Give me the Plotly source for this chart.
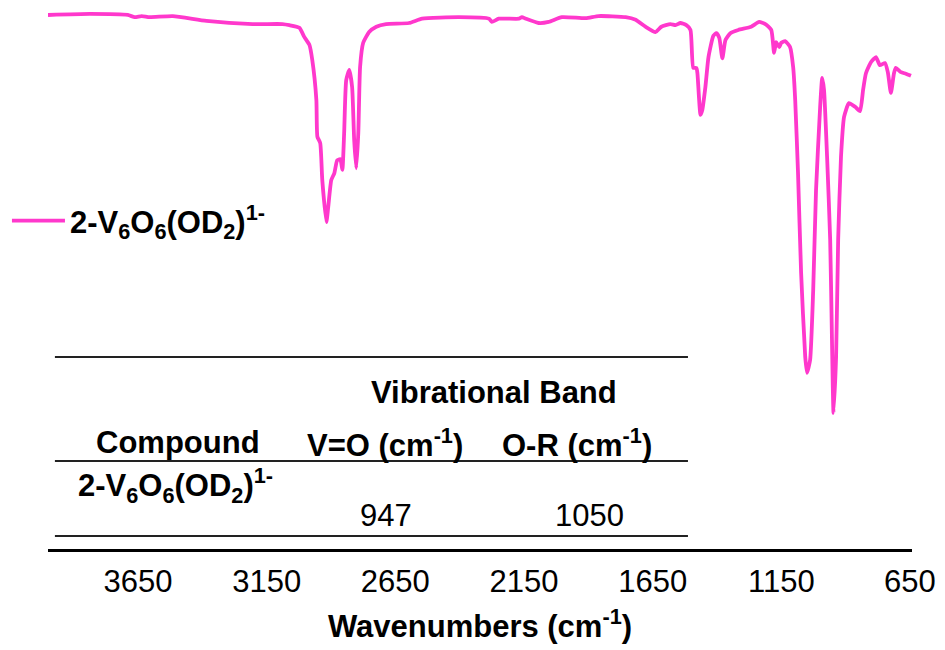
import plotly.graph_objects as go

# ---- data ----
wavenumber = [4000, 3837, 3690, 3663, 3636, 3605, 3515, 3384, 3205, 3089, 3062, 3023, 3004, 2984,
              2973, 2957, 2953, 2942, 2934, 2918, 2911, 2899, 2887, 2876, 2864, 2856, 2849, 2841,
              2829, 2818, 2810, 2802, 2794, 2787, 2775, 2752, 2724, 2686, 2597, 2546, 2403, 2286,
              2275, 2248, 2170, 2158, 2143, 2093, 2054, 2003, 1910, 1860, 1755, 1716, 1678, 1639,
              1616, 1581, 1561, 1542, 1519, 1503, 1492, 1480, 1476, 1464, 1457, 1445, 1433, 1414,
              1402, 1391, 1379, 1367, 1348, 1317, 1267, 1236, 1212, 1189, 1178, 1170, 1158, 1150,
              1135, 1116, 1104, 1096, 1085, 1073, 1057, 1050, 1038, 1026, 1015, 999, 991, 984,
              972, 960, 953, 947, 937, 929, 918, 906, 887, 863, 844, 832, 821, 801, 782, 767,
              747, 736, 724, 712, 705, 685, 666, 646]
transmittance = [100.0, 100.2, 100.0, 99.6, 99.8, 99.6, 99.8, 98.9, 98.3, 98.3, 98.1, 97.6, 95.9, 94.4,
                 91.6, 84.1, 77.2, 76.0, 69.1, 61.2, 64.0, 69.1, 70.4, 72.8, 73.0, 71.0, 77.9, 87.8,
                 89.7, 86.5, 76.6, 71.3, 77.9, 90.3, 94.8, 96.8, 97.8, 98.3, 98.5, 99.3, 99.6, 99.3,
                 98.7, 99.3, 99.3, 99.6, 99.3, 98.5, 98.7, 99.6, 99.4, 99.8, 99.6, 99.1, 97.8, 96.8,
                 97.8, 98.3, 98.1, 98.5, 98.1, 97.2, 90.1, 90.1, 89.1, 81.3, 82.2, 86.5, 92.1, 96.1,
                 96.6, 95.7, 91.9, 95.3, 96.6, 97.2, 97.8, 98.7, 98.3, 97.2, 92.9, 94.9, 94.0, 94.8,
                 95.1, 94.0, 90.3, 84.1, 70.4, 51.7, 36.0, 33.0, 35.4, 48.5, 67.2, 82.8, 88.2, 86.0,
                 73.4, 57.9, 39.1, 25.5, 36.0, 57.9, 73.4, 80.9, 83.5, 82.8, 82.0, 86.0, 89.1, 91.2,
                 92.1, 90.6, 91.0, 89.3, 85.4, 89.1, 90.1, 89.3, 89.0, 88.6]
series_name = "2-V<sub>6</sub>O<sub>6</sub>(OD<sub>2</sub>)<sup>1-</sup>"
tick_values = [3650, 3150, 2650, 2150, 1650, 1150, 650]

# table content
table_group_header = "Vibrational Band"
table_headers = ["Compound", "V=O (cm<sup>-1</sup>)", "O-R (cm<sup>-1</sup>)"]
table_compounds = ["2-V<sub>6</sub>O<sub>6</sub>(OD<sub>2</sub>)<sup>1-</sup>"]
table_vo = ["947"]
table_or = ["1050"]

# ---- style ----
FONT = "Liberation Sans, Arial, sans-serif"
PINK = "#FF38CC"
TXT = 31

fig = go.Figure()
fig.add_trace(go.Scatter(
    x=wavenumber, y=transmittance, mode="lines", name="<b>" + series_name + "</b>",
    line=dict(color=PINK, width=3.8, shape="spline", smoothing=0.5),
))

# table layout (paper coordinates)
header_x = [0.1505, 0.3900, 0.6123]
cell_x = [0.1470, 0.3912, 0.6273]
tx0, tx1 = 0.008, 0.7407
line_y = [0.3529, 0.1618, 0.0239]
shapes = [dict(type="line", xref="paper", yref="paper", x0=tx0, x1=tx1, y0=yy, y1=yy,
               line=dict(color="#222222", width=2)) for yy in line_y]

ann = []
ann.append(dict(text="<b>" + table_group_header + "</b>", x=0.5162, y=0.2886))
for cx, h in zip(header_x, table_headers):
    ann.append(dict(text="<b>" + h + "</b>", x=cx, y=0.1949))
for i, c in enumerate(table_compounds):
    ann.append(dict(text="<b>" + c + "</b>", x=cell_x[0], y=0.1176))
    ann.append(dict(text=table_vo[i], x=cell_x[1], y=0.0625))
    ann.append(dict(text=table_or[i], x=cell_x[2], y=0.0625))
annotations = []
for a in ann:
    a.update(xref="paper", yref="paper", showarrow=False, xanchor="center", yanchor="middle",
             font=dict(family=FONT, size=TXT, color="black"))
    annotations.append(a)

fig.update_layout(
    width=945, height=650,
    margin=dict(l=48, r=33, t=5, b=101),
    paper_bgcolor="white", plot_bgcolor="white",
    font=dict(family=FONT, color="black"),
    showlegend=True,
    legend=dict(x=-0.0475, xanchor="left", y=0.603, yanchor="middle",
                font=dict(family=FONT, size=TXT, color="black"),
                bgcolor="rgba(0,0,0,0)", itemwidth=53),
    shapes=shapes,
    annotations=annotations,
)
fig.update_xaxes(
    range=[4000, 642], showgrid=False, zeroline=False,
    showline=True, linecolor="black", linewidth=3,
    tickmode="array", tickvals=tick_values, ticktext=[str(t) for t in tick_values],
    ticks="outside", ticklen=3, tickcolor="rgba(0,0,0,0)",
    tickfont=dict(family=FONT, size=TXT, color="black"),
    title=dict(text="<b>Wavenumbers (cm<sup>-1</sup>)</b>", font=dict(family=FONT, size=TXT, color="black"),
               standoff=18),
)
fig.update_yaxes(visible=False, range=[0, 101.87])

fig.write_html("out.html")
